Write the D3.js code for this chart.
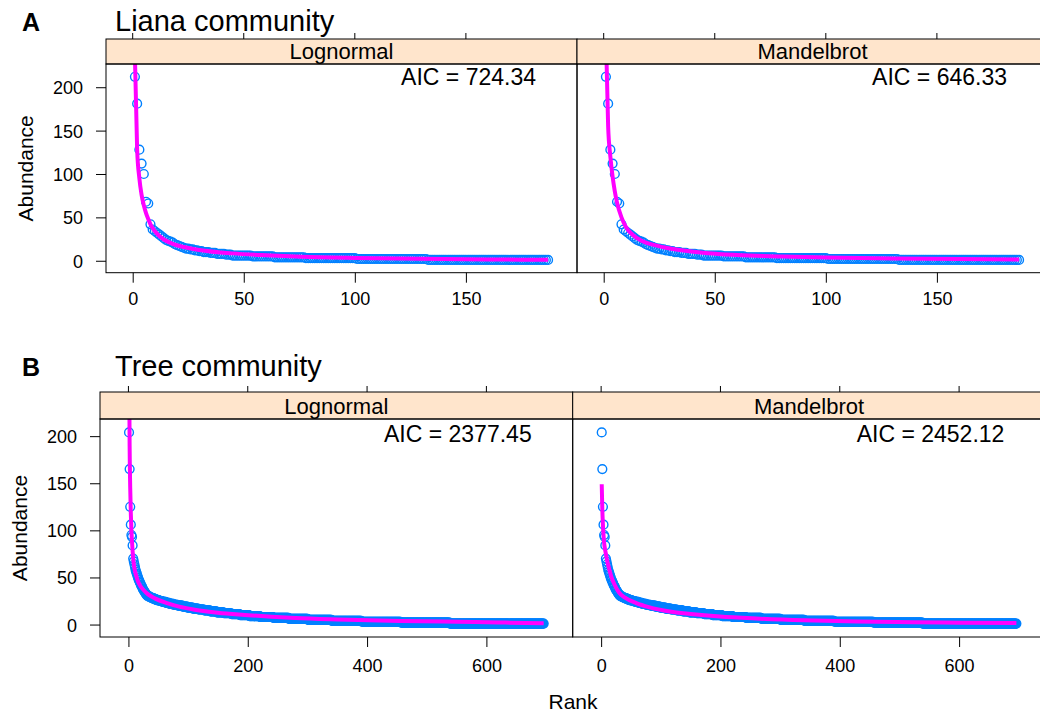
<!DOCTYPE html>
<html>
<head>
<meta charset="utf-8">
<script src="https://cdn.jsdelivr.net/npm/d3@7"></script>
<style>
  html, body { margin: 0; padding: 0; background: #fff; }
  svg { display: block; font-family: "Liberation Sans", Arial, Helvetica, sans-serif; }
</style>
</head>
<body>
<svg id="chart" width="1040" height="714"></svg>
<script>
// ---- Liana community: ranked abundances ----
// largest species listed individually, the rest as abundance classes (value, number of species)
const lianaTop = [212, 181, 128, 112, 100, 68, 66, 42,
  36, 34, 32, 30, 28, 26, 24, 23, 22, 21, 19, 18, 17, 16, 15, 14, 14, 13, 13, 12,
  12, 11, 11, 10, 10, 10, 9, 9, 9, 8, 8, 8, 8, 7, 7, 7];
const lianaClassValue = [6, 5, 4, 3, 2, 1];
const lianaClassCount = [9, 10, 14, 23, 32, 55];

// ---- Tree community: ranked abundances ----
const treeTop = [204, 165, 125, 106, 95, 93, 84, 70, 67, 64, 61, 58, 56, 54, 52, 50,
  48, 47, 45, 44, 42, 41, 40, 38, 37, 36, 35, 34, 33, 32];
const treeClassValue = [31, 30, 29, 28, 27, 26, 25, 24, 23, 22, 21, 20, 19, 18, 17, 16,
  15, 14, 13, 12, 11, 10, 9, 8, 7, 6, 5, 4, 3, 2, 1];
const treeClassCount = [2, 3, 3, 4, 4, 5, 5, 6, 6, 7, 7, 8, 8, 9, 9, 10,
  10, 11, 12, 13, 14, 16, 18, 22, 26, 32, 40, 50, 66, 82, 158];

// ---- Fitted rank-abundance models (rank, fitted abundance) ----
const lianaLognormRank = [1, 2, 3, 4, 5, 6, 7, 8, 10, 12, 14, 18, 23, 30, 45, 60, 76, 100, 130, 160, 187];
const lianaLognormFit  = [235, 128, 95, 76, 64, 55, 48, 42, 34, 28.5, 24.5, 19.5, 15.8, 12.5, 8.5, 6.3, 4.7, 3.3, 2.2, 1.5, 1.1];
const lianaMandelRank = [1, 2, 3, 4, 5, 6, 8, 10, 13, 17, 22, 27, 35, 47, 60, 80, 100, 130, 160, 187];
const lianaMandelFit  = [260, 155, 120, 97, 80, 67, 50, 39, 30, 23, 18.5, 15.5, 12, 8.6, 6.6, 4.8, 3.7, 2.7, 2.0, 1.4];

const treeLognormRank = [1, 2, 3, 4, 5, 6, 8, 10, 13, 16, 20, 25, 33, 45, 66, 85, 111, 150, 195, 240, 280, 350, 456, 550, 620, 696];
const treeLognormFit  = [300, 190, 145, 118, 100, 88, 70, 60, 52, 46, 41, 37, 32, 27.5, 22.5, 19, 15.8, 12.5, 10.2, 8.3, 6.9, 5.4, 3.9, 2.9, 2.2, 1.5];
const treeMandelRank = [1, 2, 3, 4, 5, 6, 8, 10, 13, 17, 22, 30, 40, 59, 80, 115, 150, 199, 260, 340, 430, 520, 600, 696];
const treeMandelFit  = [149, 122, 106, 95, 87, 82, 75, 68, 60, 51, 43, 34, 28.5, 22.8, 18.5, 13.8, 11.2, 8.5, 6.4, 4.5, 3.3, 2.5, 2.0, 1.6];

const modelNames = ["Lognormal", "Mandelbrot"];
const lianaAIC = ["724.34", "646.33"];
const treeAIC = ["2377.45", "2452.12"];
const lianaXTicks = [0, 50, 100, 150];
const treeXTicks = [0, 200, 400, 600];
const yTicks = [0, 50, 100, 150, 200];

// expand top species + abundance classes into a ranked series
function ranked(top, classValue, classCount) {
  const vals = top.slice();
  classValue.forEach((v, i) => { for (let k = 0; k < classCount[i]; k++) vals.push(v); });
  return vals.map((v, i) => ({ rank: i + 1, value: v }));
}
const lianaData = ranked(lianaTop, lianaClassValue, lianaClassCount);
const treeData = ranked(treeTop, treeClassValue, treeClassCount);

// lattice-style 7% padding around the data range
function padded(ext) {
  const d = (ext[1] - ext[0]) * 0.07;
  return [ext[0] - d, ext[1] + d];
}

const svg = d3.select("#chart");
const INK = "#000";
const STRIP_FILL = "#ffe5cc";
const POINT_COL = "#0080ff";
const LINE_COL = "#ff00ff";

function drawRow(cfg) {
  const { data, fits, aic, xTicks, left, panelW, stripTop, stripH, plotBottom,
          letter, title, titleBase, aicBase, aicInset, xLabBase, yLabRight, stripBase, yLabX } = cfg;
  const plotTop = stripTop + stripH;
  const x0 = padded(d3.extent(data, d => d.rank));
  const y0 = padded(d3.extent(data, d => d.value));
  const y = d3.scaleLinear().domain(y0).range([plotBottom, plotTop]);

  svg.append("text").attr("x", 22).attr("y", titleBase)
    .attr("font-size", 25).attr("font-weight", "bold").text(letter);
  svg.append("text").attr("x", 115).attr("y", titleBase)
    .attr("font-size", 29).text(title);

  modelNames.forEach((name, p) => {
    const pl = left + p * panelW;
    const pr = pl + panelW;
    const x = d3.scaleLinear().domain(x0).range([pl, pr]);
    const g = svg.append("g");
    const clipId = "clip-" + letter + p;
    g.append("clipPath").attr("id", clipId).append("rect")
      .attr("x", pl).attr("y", plotTop).attr("width", panelW).attr("height", plotBottom - plotTop);

    // points
    g.append("g").attr("clip-path", `url(#${clipId})`)
      .selectAll("circle").data(data).join("circle")
      .attr("cx", d => x(d.rank)).attr("cy", d => y(d.value)).attr("r", 4.4)
      .attr("fill", "none").attr("stroke", POINT_COL).attr("stroke-width", 1.4);

    // fitted model
    const fr = fits[p][0], fv = fits[p][1];
    const line = d3.line().x(d => x(d[0])).y(d => y(d[1])).curve(d3.curveMonotoneX);
    g.append("path").attr("clip-path", `url(#${clipId})`)
      .attr("d", line(fr.map((r, i) => [r, fv[i]])))
      .attr("fill", "none").attr("stroke", LINE_COL).attr("stroke-width", 4)
      .attr("stroke-linejoin", "round");

    // AIC label
    g.append("text").attr("x", pr - aicInset).attr("y", aicBase)
      .attr("text-anchor", "end").attr("font-size", 23).text("AIC = " + aic[p]);

    // strip
    g.append("rect").attr("x", pl).attr("y", stripTop).attr("width", panelW).attr("height", stripH)
      .attr("fill", STRIP_FILL).attr("stroke", INK).attr("stroke-width", 1);
    g.append("text").attr("x", (pl + pr) / 2).attr("y", stripBase)
      .attr("text-anchor", "middle").attr("font-size", 22).text(name);

    // panel border
    g.append("rect").attr("x", pl).attr("y", plotTop).attr("width", panelW).attr("height", plotBottom - plotTop)
      .attr("fill", "none").attr("stroke", INK).attr("stroke-width", 1);

    // bottom axis
    const bx = g.append("g").attr("transform", `translate(0,${plotBottom})`)
      .call(d3.axisBottom(x).tickValues(xTicks).tickSize(10).tickSizeOuter(0).tickPadding(0));
    bx.select(".domain").remove();
    bx.selectAll("line").attr("stroke", INK);
    bx.selectAll("text").attr("font-size", 18).attr("font-family", null).attr("fill", INK)
      .attr("dy", null).attr("y", xLabBase - plotBottom);

    // top ticks above strip
    g.selectAll(".ttick").data(xTicks).join("line")
      .attr("x1", d => x(d)).attr("x2", d => x(d))
      .attr("y1", stripTop - 6).attr("y2", stripTop).attr("stroke", INK);

    if (p === 0) {
      const ly = g.append("g").attr("transform", `translate(${pl},0)`)
        .call(d3.axisLeft(y).tickValues(yTicks).tickSize(10).tickSizeOuter(0).tickPadding(0));
      ly.select(".domain").remove();
      ly.selectAll("line").attr("stroke", INK);
      ly.selectAll("text").attr("font-size", 18).attr("font-family", null).attr("fill", INK)
        .attr("x", yLabRight - pl).attr("dy", "0.36em");
    }
  });

  svg.append("text")
    .attr("transform", `translate(${yLabX},${(plotTop + plotBottom) / 2}) rotate(-90)`)
    .attr("text-anchor", "middle").attr("dy", "0.36em").attr("font-size", 21).text("Abundance");
}

drawRow({
  data: lianaData,
  fits: [[lianaLognormRank, lianaLognormFit], [lianaMandelRank, lianaMandelFit]],
  aic: lianaAIC, xTicks: lianaXTicks,
  left: 106, panelW: 471, stripTop: 39, stripH: 25, plotBottom: 272.7,
  letter: "A", title: "Liana community", titleBase: 30.5, aicBase: 85, aicInset: 41,
  xLabBase: 305, yLabRight: 83, stripBase: 59.3, yLabX: 25
});

drawRow({
  data: treeData,
  fits: [[treeLognormRank, treeLognormFit], [treeMandelRank, treeMandelFit]],
  aic: treeAIC, xTicks: treeXTicks,
  left: 100, panelW: 472.7, stripTop: 392, stripH: 27, plotBottom: 637,
  letter: "B", title: "Tree community", titleBase: 376, aicBase: 441.7, aicInset: 41,
  xLabBase: 672, yLabRight: 77, stripBase: 414, yLabX: 19
});

svg.append("text").attr("x", 573).attr("y", 709).attr("text-anchor", "middle")
  .attr("font-size", 21).text("Rank");
</script>
</body>
</html>
